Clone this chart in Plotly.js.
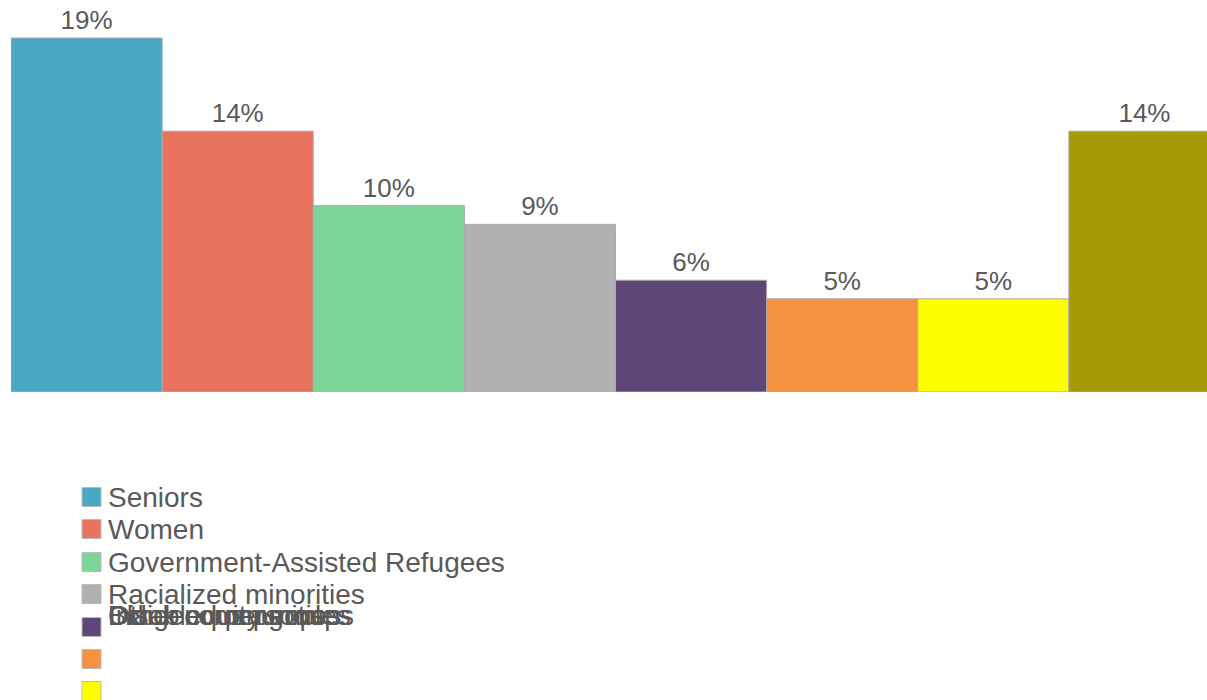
<!DOCTYPE html>
<html><head><meta charset="utf-8">
<script src="https://cdn.plot.ly/plotly-3.0.1.min.js"></script>
<style>html,body{margin:0;padding:0;overflow:hidden;background:#fff}#chart{width:1222px;height:700px}</style>
</head><body><div id="chart"></div>
<script>
const categories = ["Seniors","Women","Government-Assisted Refugees","Racialized minorities","Black communities","Indigenous peoples","Disabled persons","Other equity groups"];
const values = [19,14,10,9,6,5,5,14];
const labels = ["19%","14%","10%","9%","6%","5%","5%","14%"];
const colors = ["#48a9c5","#e9735f","#7dd59a","#b0b0b0","#5e4678","#f5923f","#ffff00","#a69a05"];

const plotTop = 0, plotBottom = 392;
const pxToPaper = py => (plotBottom - py) / (plotBottom - plotTop);

const traces = categories.map((c, i) => ({
  type: 'bar', name: c, x: [i], y: [values[i]], width: 1,
  text: [labels[i]], textposition: 'outside', cliponaxis: false,
  textfont: {family: 'Liberation Sans, Arial, sans-serif', size: 26, color: '#595959'},
  marker: {color: colors[i], line: {color: '#aaaaaa', width: 1}},
  hoverinfo: 'none', showlegend: false
}));

// legend built from categories/colors
const squareY = [497, 529, 562, 594, 627, 659, 691, 723];
const labelY = [497, 529, 562, 594, 615, 615, 615, 615];
const shapes = [], annotations = [];
categories.forEach((c, i) => {
  shapes.push({type: 'rect', xref: 'paper', yref: 'paper',
    xsizemode: 'pixel', ysizemode: 'pixel', xanchor: 0, yanchor: pxToPaper(squareY[i]),
    x0: 71, x1: 90, y0: -9.5, y1: 9.5,
    fillcolor: colors[i], line: {color: '#bbbbbb', width: 1}});
  annotations.push({xref: 'paper', yref: 'paper', x: 95 / 1209, y: pxToPaper(labelY[i]),
    xanchor: 'left', yanchor: 'middle', showarrow: false, text: c,
    font: {family: 'Liberation Sans, Arial, sans-serif', size: 28, color: '#595959'}});
});

const layout = {
  width: 1222, height: 700,
  margin: {l: 11, r: 2, t: plotTop, b: 700 - plotBottom},
  paper_bgcolor: '#fff', plot_bgcolor: '#fff',
  barmode: 'overlay', bargap: 0,
  xaxis: {range: [-0.5, 7.5], showticklabels: false, showgrid: false, zeroline: false, showline: false, ticks: ''},
  yaxis: {range: [0, 392 / 18.63], showticklabels: false, showgrid: false, zeroline: false, showline: false},
  shapes: shapes, annotations: annotations, showlegend: false
};
Plotly.newPlot('chart', traces, layout, {displayModeBar: false, staticPlot: true});
</script></body></html>
